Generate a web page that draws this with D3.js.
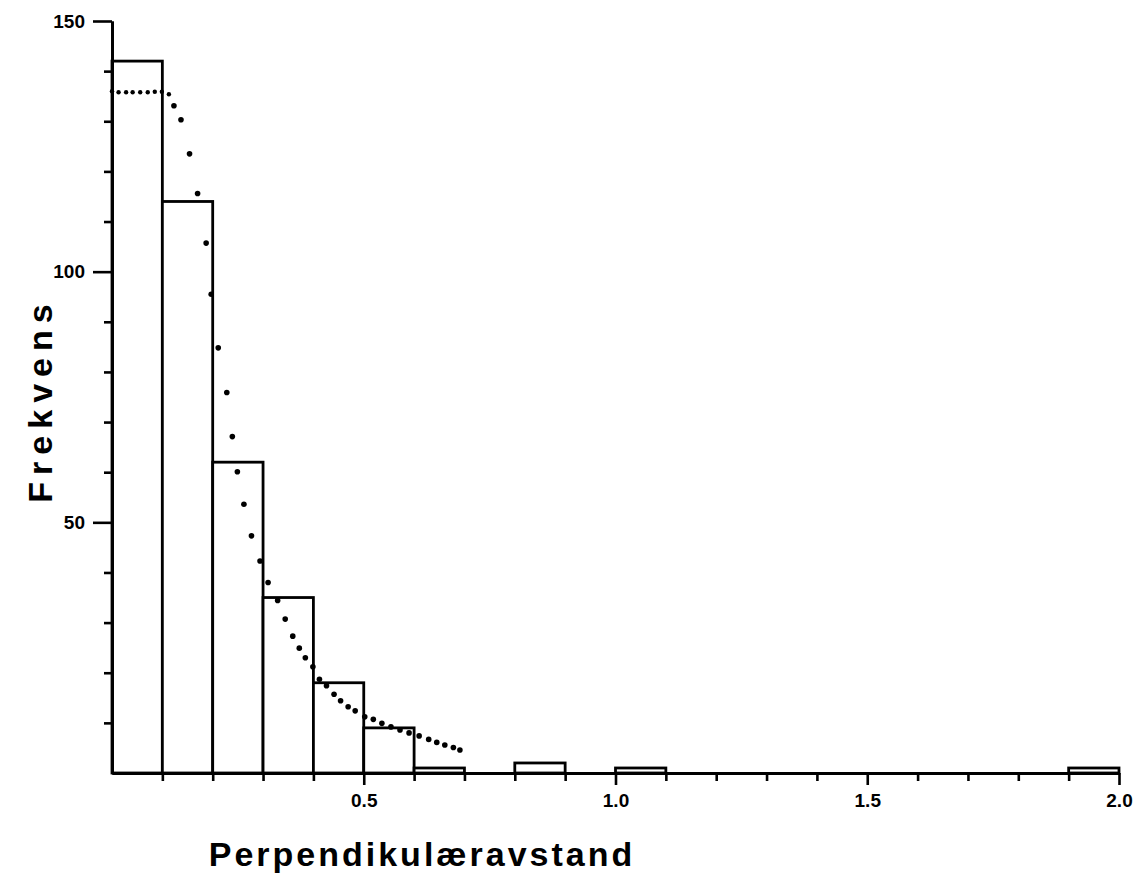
<!DOCTYPE html>
<html>
<head>
<meta charset="utf-8">
<script src="https://cdn.jsdelivr.net/npm/d3@7"></script>
<style>
  html, body { margin: 0; padding: 0; background: #fff; }
  svg { display: block; }
  .tick-label { font-family: "Liberation Sans Narrow", "Arial Narrow", "Liberation Sans", sans-serif; font-weight: bold; font-size: 19px; fill: #000; }
  .axis-title { font-family: "Liberation Sans", Arial, sans-serif; font-weight: bold; fill: #000; }
</style>
</head>
<body>
<div id="chart"></div>
<script>
// --- Data ---
const binLo = [0.0, 0.1, 0.2, 0.3, 0.4, 0.5, 0.6, 0.7, 0.8, 0.9, 1.0, 1.1, 1.2, 1.3, 1.4, 1.5, 1.6, 1.7, 1.8, 1.9];
const binHi = [0.1, 0.2, 0.3, 0.4, 0.5, 0.6, 0.7, 0.8, 0.9, 1.0, 1.1, 1.2, 1.3, 1.4, 1.5, 1.6, 1.7, 1.8, 1.9, 2.0];
const counts = [142, 114, 62, 35, 18, 9, 1, 0, 2, 0, 1, 0, 0, 0, 0, 0, 0, 0, 0, 1];

// fitted curve, drawn as dots
const curveX = [0.000, 0.013, 0.028, 0.041, 0.056, 0.071, 0.085, 0.099, 0.113, 0.123,
                0.137, 0.154, 0.170, 0.187, 0.197, 0.211, 0.228, 0.239, 0.249, 0.262,
                0.277, 0.294, 0.310, 0.329, 0.344, 0.359, 0.372, 0.384, 0.399, 0.412,
                0.426, 0.441, 0.454, 0.469, 0.483, 0.502, 0.519, 0.536, 0.554, 0.572,
                0.590, 0.610, 0.629, 0.645, 0.661, 0.678, 0.691];
const curveY = [136.0, 135.8, 135.8, 135.8, 135.8, 135.8, 135.9, 135.9, 135.4, 133.1,
                130.3, 123.5, 115.6, 105.7, 95.5, 84.8, 75.9, 67.1, 60.1, 53.6,
                47.3, 42.3, 38.0, 34.4, 30.7, 27.3, 24.9, 23.0, 21.2, 18.7,
                17.4, 15.7, 14.4, 13.2, 12.4, 11.2, 10.7, 9.9, 9.2, 8.6,
                8.0, 7.4, 6.7, 6.1, 5.6, 5.1, 4.6];

const xMinorTicks = [0.1, 0.2, 0.3, 0.4, 0.6, 0.7, 0.8, 0.9, 1.1, 1.2, 1.3, 1.4, 1.6, 1.7, 1.8, 1.9];
const xMajorTicks = [0.5, 1.0, 1.5, 2.0];
const yMinorTicks = [10, 20, 30, 40, 60, 70, 80, 90, 110, 120, 130, 140];
const yMajorTicks = [50, 100, 150];

const xTitle = 'Perpendikulæravstand';
const yTitle = 'Frekvens';

// --- Layout ---
const width = 1136;
const height = 877;

const x = d3.scaleLinear().domain([0, 2.0]).range([112, 1119]);
const y = d3.scaleLinear().domain([0, 150]).range([773, 21]);

const svg = d3.select('#chart').append('svg')
    .attr('width', width)
    .attr('height', height);

svg.append('rect').attr('width', width).attr('height', height).attr('fill', '#fff');

// --- Histogram bars ---
const bars = binLo.map((lo, i) => ({ lo, hi: binHi[i], n: counts[i] })).filter(d => d.n > 0);

svg.append('g')
    .selectAll('rect')
    .data(bars)
    .join('rect')
    .attr('x', d => x(d.lo))
    .attr('y', d => y(d.n))
    .attr('width', d => x(d.hi) - x(d.lo))
    .attr('height', d => y(0) - y(d.n))
    .attr('fill', '#fff')
    .attr('stroke', '#000')
    .attr('stroke-width', 2.8);

// --- Curve dots ---
svg.append('g')
    .selectAll('circle')
    .data(curveX.map((v, i) => [v, curveY[i]]))
    .join('circle')
    .attr('cx', d => x(d[0]))
    .attr('cy', d => y(d[1]))
    .attr('r', (d, i) => i < 9 ? 2.2 : 2.8)
    .attr('fill', '#000');

// --- Axes ---
function styleAxis(g) {
    g.select('.domain').attr('stroke', '#000').attr('stroke-width', 2.8);
    g.selectAll('.tick line').attr('stroke', '#000').attr('stroke-width', 2.6);
}

// x axis: minor and major ticks
svg.append('g')
    .attr('transform', `translate(0,${y(0)})`)
    .call(d3.axisBottom(x).tickValues(xMinorTicks).tickSize(8).tickSizeOuter(0).tickFormat(''))
    .call(styleAxis);

svg.append('g')
    .attr('transform', `translate(0,${y(0)})`)
    .call(d3.axisBottom(x).tickValues(xMajorTicks).tickSize(12).tickSizeOuter(0).tickPadding(9).tickFormat(d3.format('.1f')))
    .call(styleAxis)
    .call(g => g.selectAll('.tick text').attr('class', 'tick-label').attr('font-family', null).attr('font-size', null));

// y axis
svg.append('g')
    .attr('transform', `translate(${x(0)},0)`)
    .call(d3.axisLeft(y).tickValues(yMinorTicks).tickSize(8).tickSizeOuter(0).tickFormat(''))
    .call(styleAxis);

svg.append('g')
    .attr('transform', `translate(${x(0)},0)`)
    .call(d3.axisLeft(y).tickValues(yMajorTicks).tickSize(19).tickSizeOuter(0).tickPadding(8).tickFormat(d3.format('d')))
    .call(styleAxis)
    .call(g => g.selectAll('.tick text').attr('class', 'tick-label').attr('font-family', null).attr('font-size', null));

// --- Titles ---
svg.append('text')
    .attr('class', 'axis-title')
    .attr('x', 422)
    .attr('y', 866)
    .attr('text-anchor', 'middle')
    .style('font-size', '34px')
    .style('letter-spacing', '3px')
    .text(xTitle);

svg.append('text')
    .attr('class', 'axis-title')
    .attr('transform', 'translate(52,400) rotate(-90)')
    .attr('text-anchor', 'middle')
    .style('font-size', '34px')
    .style('letter-spacing', '7px')
    .text(yTitle);
</script>
</body>
</html>
